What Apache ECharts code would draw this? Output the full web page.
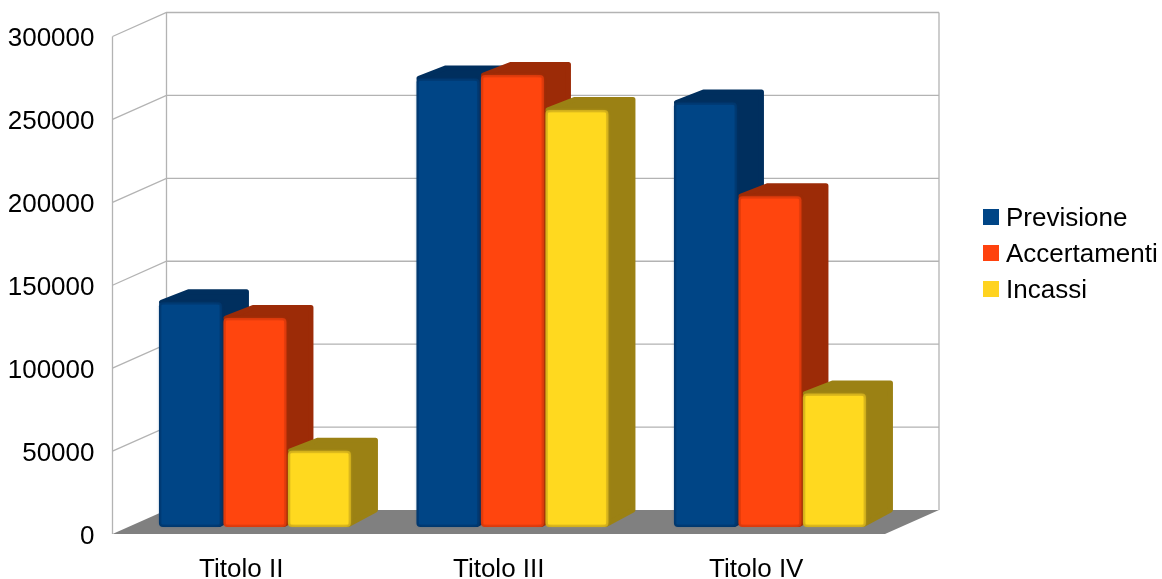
<!DOCTYPE html>
<html>
<head>
<meta charset="utf-8">
<title>Titoli</title>
<script src="https://cdn.jsdelivr.net/npm/echarts@6/dist/echarts.min.js"></script>
<style>
  html, body { margin: 0; padding: 0; background: #fff; }
  #chart { width: 1162px; height: 579px; }
</style>
</head>
<body>
<div id="chart"></div>
<script>
// Values per revenue title
const categories = ['Titolo II', 'Titolo III', 'Titolo IV'];
const previsione = [135500, 270500, 256000];
const accertamenti = [126000, 272500, 199500];
const incassi = [46000, 251500, 80500];
const yTicks = [0, 50000, 100000, 150000, 200000, 250000, 300000];

const seriesNames = ['Previsione', 'Accertamenti', 'Incassi'];
const seriesValues = [previsione, accertamenti, incassi];
const legendColors = ['#004586', '#ff420e', '#ffd320'];
const faceColors = ['#004586', '#ff450e', '#ffd91f'];
const edgeColors = ['#00366b', '#d4380c', '#c9a71c'];
const darkColors = ['#002f5e', '#9c2b07', '#9b8114'];

// Pseudo-3D box: wall depth, and bar placement inside that depth
const WALL_DX = 54, WALL_DY = 24;
const BAR_SHIFT_X = 13.7, BAR_SHIFT_Y = 7;
const BAR_DX = 27, BAR_DY = 13;
const BAR_WIDTH = 63, BAR_STEP = 64.5;
const GRID_COLOR = '#b3b3b3';

function renderWall(params, api) {
  const cs = params.coordSys;
  const y = api.coord([0, api.value(1)])[1];
  const left = cs.x, right = cs.x + cs.width;
  const children = [];
  const lineStyle = { stroke: GRID_COLOR, lineWidth: 1.3, fill: null };
  if (api.value(1) === yTicks[0]) {
    children.push({
      type: 'polygon',
      shape: { points: [[left, y], [left + WALL_DX, y - WALL_DY], [right + WALL_DX, y - WALL_DY], [right, y]] },
      style: { fill: '#808080' }
    });
    children.push({
      type: 'polyline',
      shape: { points: [[left, y], [left, cs.y]] },
      style: lineStyle
    });
    children.push({
      type: 'polyline',
      shape: { points: [[left + WALL_DX, y - WALL_DY], [left + WALL_DX, cs.y - WALL_DY]] },
      style: lineStyle
    });
    children.push({
      type: 'polyline',
      shape: { points: [[right + WALL_DX, y - WALL_DY], [right + WALL_DX, cs.y - WALL_DY]] },
      style: lineStyle
    });
  } else {
    children.push({
      type: 'polyline',
      shape: { points: [[left, y], [left + WALL_DX, y - WALL_DY], [right + WALL_DX, y - WALL_DY]] },
      style: lineStyle
    });
  }
  return { type: 'group', children: children };
}

function makeBarRenderer(index) {
  return function (params, api) {
    const top = api.coord([api.value(0), api.value(1)]);
    const base = api.coord([api.value(0), 0]);
    const x0 = top[0] + BAR_SHIFT_X + (index - 1) * BAR_STEP - BAR_WIDTH / 2;
    const x1 = x0 + BAR_WIDTH;
    const yTop = top[1] - BAR_SHIFT_Y;
    const yBase = base[1] - BAR_SHIFT_Y;
    const r = 2.5;
    return {
      type: 'group',
      children: [
        {
          // Top and side faces as one silhouette with round joins
          type: 'polygon',
          shape: {
            points: [
              [x0 + r, yTop],
              [x0 + BAR_DX + r, yTop - BAR_DY + r],
              [x1 + BAR_DX - r, yTop - BAR_DY + r],
              [x1 + BAR_DX - r, yBase - BAR_DY - 4],
              [x1 - r, yBase - r]
            ]
          },
          style: {
            fill: darkColors[index],
            stroke: darkColors[index],
            lineWidth: 2 * r,
            lineJoin: 'round'
          }
        },
        {
          type: 'rect',
          shape: { x: x0, y: yTop, width: BAR_WIDTH, height: yBase - yTop, r: 4 },
          style: { fill: edgeColors[index] }
        },
        {
          // Lit front face; the shadow softens it into the darker rim
          type: 'rect',
          shape: { x: x0 + 2.5, y: yTop + 2.5, width: BAR_WIDTH - 5, height: yBase - yTop - 5, r: 1 },
          style: { fill: faceColors[index], shadowBlur: 4, shadowColor: faceColors[index] }
        }
      ]
    };
  };
}

const labelFont = { fontFamily: '"Liberation Sans", Arial, sans-serif', fontSize: 26, color: '#000' };

const option = {
  animation: false,
  backgroundColor: '#fff',
  grid: { left: 112.5, top: 36.5, width: 772.5, height: 497.5, outerBoundsMode: 'none' },
  legend: {
    data: seriesNames,
    left: 983,
    top: 206,
    padding: 0,
    orient: 'vertical',
    icon: 'rect',
    itemWidth: 16,
    itemHeight: 16,
    itemGap: 10,
    selectedMode: false,
    formatter: function (name) { return '{t|' + name + '}'; },
    textStyle: Object.assign({}, labelFont, {
      rich: { t: Object.assign({}, labelFont, { padding: [4, 0, 0, 2] }) }
    })
  },
  xAxis: {
    type: 'category',
    data: categories,
    axisLine: { show: false },
    axisTick: { show: false },
    axisLabel: Object.assign({}, labelFont, { margin: 23 })
  },
  yAxis: {
    type: 'value',
    min: yTicks[0],
    max: yTicks[yTicks.length - 1],
    interval: yTicks[1] - yTicks[0],
    axisLine: { show: false },
    axisTick: { show: false },
    splitLine: { show: false },
    axisLabel: Object.assign({}, labelFont, {
      margin: 18,
      formatter: function (value) { return '{t|' + value + '}'; },
      rich: { t: Object.assign({}, labelFont, { padding: [5, 0, 0, 0] }) }
    })
  },
  series: [
    {
      type: 'custom',
      silent: true,
      clip: false,
      renderItem: renderWall,
      encode: { x: 0, y: 1 },
      data: yTicks.map(function (t) { return [0, t]; }),
      z: 1
    }
  ].concat(seriesNames.map(function (name, i) {
    return {
      name: name,
      type: 'custom',
      clip: false,
      renderItem: makeBarRenderer(i),
      encode: { x: 0, y: 1 },
      itemStyle: { color: legendColors[i] },
      data: seriesValues[i].map(function (v, c) { return [c, v]; }),
      z: 2
    };
  }))
};

const chart = echarts.init(document.getElementById('chart'), null, { renderer: 'canvas' });
chart.setOption(option);
</script>
</body>
</html>
